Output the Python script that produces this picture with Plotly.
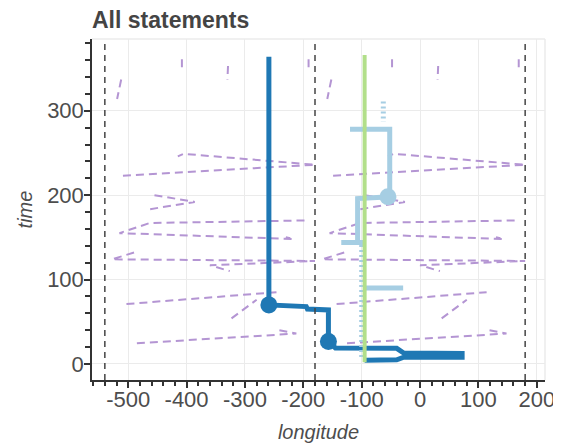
import plotly.graph_objects as go

# ---------------- data ----------------
# purple dashed track (longitude, time); None separates pieces
purple_lon = [-152, -159, None,
              -48, -48, None,
              31, 30, None,
              169, 169, None,
              -149, 180, -45, -55, None,
              -95, -26, -106, None,
              162, -103, -155, 143, 130, None,
              -130, -168, 180, 0, 34, None,
              -143, 114, None,
              37, 80, None,
              119, 148, -126, -123]
purple_time = [337, 314, None,
               361, 348, None,
               353, 337, None,
               361, 348, None,
               223, 236, 249, 246, None,
               200, 192, 183, None,
               170, 167, 155, 148, 150, None,
               132, 124, 122, 117, 110, None,
               71, 85, None,
               54, 76, None,
               40, 36, 24.5, 27]
wrap_shift = 360

dark_lon = [-259, -259, -195, -193, -157, -157, -145, -40, -28, 72, 72, -28, -40, -95]
dark_time = [364, 70, 68, 65, 64, 26.5, 19, 18.5, 13, 12.5, 8, 8, 5, 4.5]
dark_pt_lon = [-259, -157]
dark_pt_time = [70, 26.5]

light_lon = [-120, -52, -52, -107, -107, -135, -97]
light_time = [278, 278, 198, 196, 144, 144, 144]
light_bar_lon = [-97, -29]
light_bar_time = [90, 90]
light_dot_lon = [-63, -63, None, -100, -100]
light_dot_time = [311, 287, None, 141, 5]
light_pt_lon = [-55]
light_pt_time = [198]

green_lon = [-95, -95]
green_time = [366, 2]

dateline_lons = [-540, -180, 180]

x_tickvals = [-500, -400, -300, -200, -100, 0, 100, 200]
x_ticktext = ["-500", "-400", "-300", "-200", "-100", "0", "100", "200"]
y_tickvals = [0, 100, 200, 300]
y_ticktext = ["0", "100", "200", "300"]

# ---------------- colours ----------------
PURPLE = "#b495d3"
DARK = "#1f78b4"
LIGHT = "#a6cee3"
GREEN = "#b2df8a"

fig = go.Figure()

purple_shifted = [None if v is None else v - wrap_shift for v in purple_lon]
for lons in (purple_lon, purple_shifted):
    fig.add_trace(go.Scatter(x=lons, y=purple_time, mode="lines",
                             line=dict(color=PURPLE, width=2, dash="8px,5px"),
                             connectgaps=False, hoverinfo="skip"))

fig.add_trace(go.Scatter(x=dark_lon, y=dark_time, mode="lines",
                         line=dict(color=DARK, width=5)))
fig.add_trace(go.Scatter(x=light_lon, y=light_time, mode="lines",
                         line=dict(color=LIGHT, width=5)))
fig.add_trace(go.Scatter(x=light_bar_lon, y=light_bar_time, mode="lines",
                         line=dict(color=LIGHT, width=5)))
fig.add_trace(go.Scatter(x=light_dot_lon, y=light_dot_time, mode="lines",
                         line=dict(color=LIGHT, width=5, dash="2px,3px"),
                         connectgaps=False))
fig.add_trace(go.Scatter(x=green_lon, y=green_time, mode="lines",
                         line=dict(color=GREEN, width=4)))
fig.add_trace(go.Scatter(x=dark_pt_lon, y=dark_pt_time, mode="markers",
                         marker=dict(color=DARK, size=17)))
fig.add_trace(go.Scatter(x=light_pt_lon, y=light_pt_time, mode="markers",
                         marker=dict(color=LIGHT, size=17)))

for lon in dateline_lons:
    fig.add_vline(x=lon, line=dict(color="#444", width=1.5, dash="6px,5px"))

# light frame on top / right
fig.add_shape(type="line", xref="paper", yref="paper", x0=0, x1=1, y0=1, y1=1,
              line=dict(color="#ebebeb", width=1.5))
fig.add_shape(type="line", xref="paper", yref="paper", x0=1, x1=1, y0=0, y1=1,
              line=dict(color="#ebebeb", width=1.5))

FONT = "Liberation Sans, Arial, sans-serif"
axis_common = dict(
    ticks="outside", ticklen=6, tickwidth=1.5, tickcolor="#333",
    showline=True, linecolor="#333", linewidth=1.5,
    showgrid=True, gridcolor="#ebebeb", gridwidth=1,
    zeroline=False, automargin=False,
    tickfont=dict(size=22, color="#4d4d4d", family=FONT),
)

fig.update_xaxes(range=[-562, 214], tickmode="array", tickvals=x_tickvals,
                 ticktext=x_ticktext, ticklabelstandoff=-7,
                 minor=dict(dtick=20, tick0=0, ticks="outside", ticklen=4,
                            tickcolor="#333", tickwidth=1.5, showgrid=False),
                 title=dict(text="<i>longitude</i>", standoff=14,
                            font=dict(size=20, color="#4d4d4d", family=FONT)),
                 **axis_common)
fig.update_yaxes(range=[-19, 385], tickmode="array", tickvals=y_tickvals,
                 ticktext=y_ticktext, ticklabelstandoff=-4,
                 minor=dict(dtick=20, tick0=0, ticks="outside", ticklen=5,
                            tickcolor="#333", tickwidth=1.5, showgrid=False),
                 title=dict(text="<i>time</i>", standoff=9,
                            font=dict(size=20, color="#4d4d4d", family=FONT)),
                 **axis_common)

fig.update_layout(
    width=553, height=438,
    margin=dict(l=84, r=16, t=31, b=66),
    plot_bgcolor="white", paper_bgcolor="white",
    showlegend=False,
    title=dict(text="<b>All statements</b>", x=0, xref="paper", xanchor="left",
               y=1 - 12 / 438, yref="container", yanchor="middle",
               font=dict(size=23, color="#444", family=FONT)),
    font=dict(family=FONT, color="#444"),
)

fig.write_html("out.html")
